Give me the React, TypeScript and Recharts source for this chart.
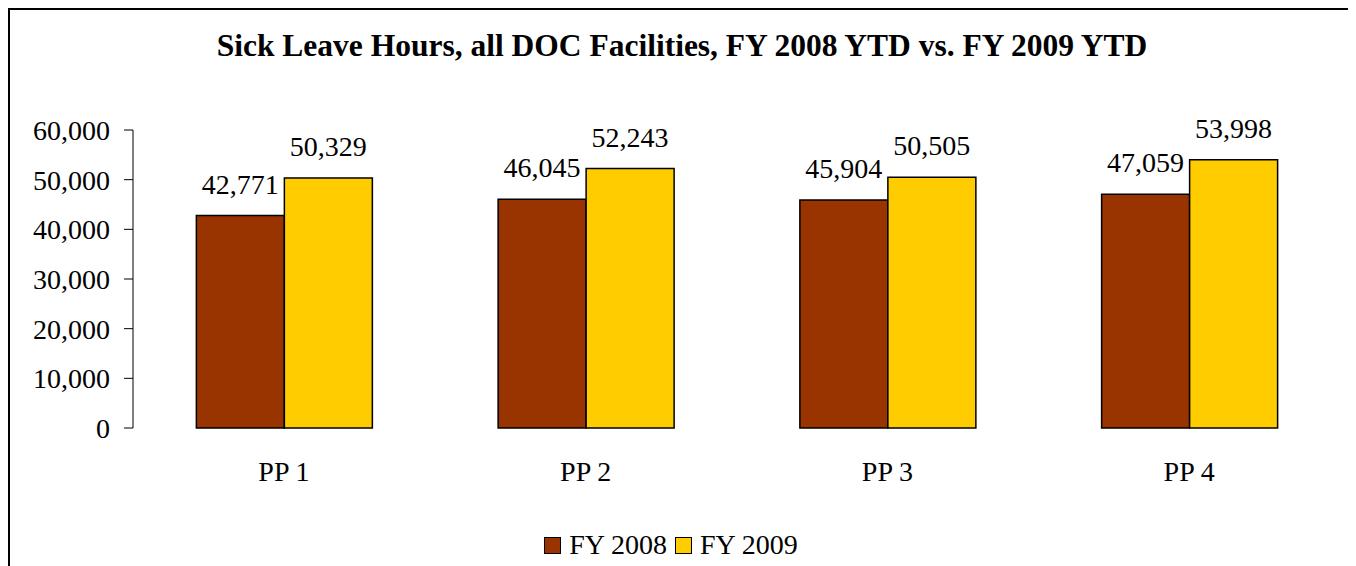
import React from 'react'
import {
  BarChart, Bar, XAxis, YAxis, LabelList, Legend,
} from 'recharts'

const periods = ['PP 1', 'PP 2', 'PP 3', 'PP 4']
const fy2008 = [42771, 46045, 45904, 47059]
const fy2009 = [50329, 52243, 50505, 53998]
const yTicks = [0, 10000, 20000, 30000, 40000, 50000, 60000]
const edgeTicks = [0, 1, 2, 3, 4]

const data = periods.map((p, i) => ({ period: p, fy2008: fy2008[i], fy2009: fy2009[i] }))

const FONT = '"Liberation Serif", "Times New Roman", serif'
const fmt = (v: number) => v.toLocaleString('en-US')

const LegendBox = () => (
  <div style={{ display: 'flex', justifyContent: 'center', alignItems: 'center', fontFamily: FONT, fontSize: 28, color: '#000', height: 32 }}>
    {[
      { name: 'FY 2008', color: '#993300' },
      { name: 'FY 2009', color: '#FFCC00' },
    ].map(s => (
      <span key={s.name} style={{ display: 'inline-flex', alignItems: 'center', marginRight: 8 }}>
        <span style={{ width: 15, height: 15, background: s.color, border: '1.5px solid #000', marginRight: 8 }} />
        {s.name}
      </span>
    ))}
  </div>
)

export default function App() {
  return (
    <div style={{
      position: 'relative', width: 1344, height: 600, border: '2px solid #000',
      background: '#fff', fontFamily: FONT,
    }}>
      <div style={{
        position: 'absolute', top: 18, left: 0, width: 1344, textAlign: 'center',
        fontWeight: 'bold', fontSize: 31.5, color: '#000', whiteSpace: 'nowrap',
      }}>
        Sick Leave Hours, all DOC Facilities, FY 2008 YTD vs. FY 2009 YTD
      </div>
      <BarChart
        width={1344}
        height={600}
        data={data}
        margin={{ top: 120, right: 14, left: 0, bottom: 90 }}
        barGap={0}
        barCategoryGap="21%"
      >
        <XAxis
          dataKey="period"
          axisLine={false}
          tickLine={false}
          tick={{ fontSize: 28, fill: '#000', fontFamily: FONT }}
          tickMargin={27}
          height={60}
        />
        <XAxis
          xAxisId="edge"
          type="number"
          domain={[0, 4]}
          ticks={edgeTicks}
          tick={false}
          tickSize={10}
          stroke="#000"
          height={0}
        />
        <YAxis
          domain={[0, 60000]}
          ticks={yTicks}
          tickFormatter={fmt}
          tick={{ fontSize: 28, fill: '#000', fontFamily: FONT }}
          tickSize={9}
          tickMargin={14}
          stroke="#000"
          width={123}
        />
        <Legend content={<LegendBox />} verticalAlign="bottom" wrapperStyle={{ bottom: 49 }} />
        <Bar dataKey="fy2008" name="FY 2008" fill="#993300" stroke="#000" strokeWidth={1.5} isAnimationActive={false}>
          <LabelList dataKey="fy2008" position="top" offset={22} formatter={(v: any) => fmt(Number(v))} style={{ fontSize: 28, fill: '#000', fontFamily: FONT }} />
        </Bar>
        <Bar dataKey="fy2009" name="FY 2009" fill="#FFCC00" stroke="#000" strokeWidth={1.5} isAnimationActive={false}>
          <LabelList dataKey="fy2009" position="top" offset={22} formatter={(v: any) => fmt(Number(v))} style={{ fontSize: 28, fill: '#000', fontFamily: FONT }} />
        </Bar>
      </BarChart>
    </div>
  )
}
